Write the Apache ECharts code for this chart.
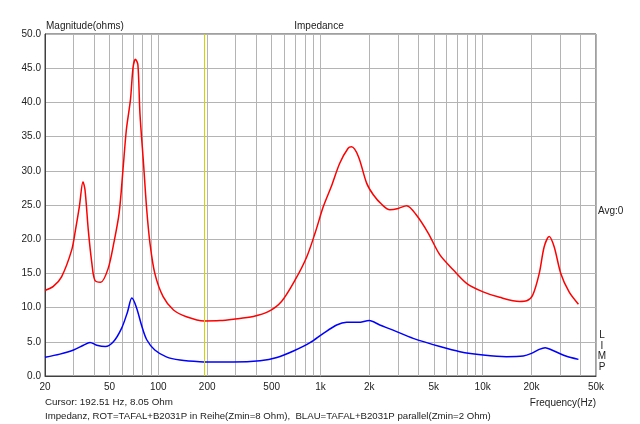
<!DOCTYPE html>
<html>
<head>
<meta charset="utf-8">
<script src="https://cdn.jsdelivr.net/npm/echarts@6/dist/echarts.min.js"></script>
<style>
html, body { margin: 0; padding: 0; background: #fff; }
#chart { width: 640px; height: 424px; }
</style>
</head>
<body>
<div id="chart"></div>
<script>
// impedance curves (Hz, Ohm)
var redFreq = [20, 22.5, 25.3, 29.2, 30.8, 32.6, 34.3, 35.3, 37.0, 38.9, 40.6, 44.1, 49.0, 53.3, 57.3, 60.5, 63.5, 67.3, 69.9, 72.3,
    74.8, 77.0, 81.0, 84.8, 88.8, 95.1, 107, 124, 149, 192, 240, 290, 385, 476, 575, 696, 822, 926, 1042, 1174,
    1314, 1480, 1554, 1712, 1925, 2116, 2382, 2680, 3016, 3396, 3912, 4614, 5450, 6600, 7960, 10060, 12720, 16900, 18700, 20340,
    22340, 23960, 25720, 27600, 30320, 34120, 38960];
var redOhm = [12.5, 13.1, 14.5, 18.4, 21.3, 24.8, 28.4, 27.2, 21.3, 16.5, 14.0, 13.7, 15.7, 19.6, 23.8, 30.1, 36.0, 40.4, 45.2, 46.3,
    45.5, 38.4, 31.1, 24.3, 19.4, 15.0, 11.6, 9.65, 8.67, 8.05, 8.1, 8.3, 8.7, 9.4, 10.9, 14.0, 17.4, 20.9, 24.8, 27.9,
    31.1, 33.3, 33.5, 32.1, 28.2, 26.5, 25.1, 24.3, 24.5, 24.9, 23.5, 20.9, 17.7, 15.5, 13.55, 12.3, 11.5, 10.9, 11.0, 11.8,
    15.0, 18.9, 20.4, 18.9, 15.0, 12.3, 10.5];
var blueFreq = [20, 24.7, 30, 34.5, 37.9, 41.7, 47.1, 52.8, 59.4, 64.6, 68.6, 73.1, 79.3, 84.8, 95.1, 112, 136, 180, 240, 290,
    424, 538, 681, 862, 1042, 1258, 1450, 1712, 1998, 2320, 2804, 3730, 5450, 7240, 10060, 14000, 17770, 20000, 22340, 24300,
    26700, 32560, 38960];
var blueOhm = [2.73, 3.2, 3.8, 4.5, 4.9, 4.5, 4.3, 5.0, 7.0, 9.4, 11.4, 10.1, 7.2, 5.3, 3.8, 2.8, 2.34, 2.1, 2.05, 2.05,
    2.24, 2.7, 3.65, 4.87, 6.24, 7.46, 7.85, 7.85, 8.1, 7.46, 6.7, 5.5, 4.3, 3.55, 3.07, 2.83, 2.92, 3.3, 3.9, 4.14,
    3.8, 2.92, 2.43];

var gridFreqs = [20, 30, 40, 50, 60, 70, 80, 90, 100, 200, 300, 400, 500, 600, 700, 800, 900, 1000,
    2000, 3000, 4000, 5000, 6000, 7000, 8000, 9000, 10000, 20000, 30000, 40000, 50000];
var labelFreqs = [20, 50, 100, 200, 500, 1000, 2000, 5000, 10000, 20000, 50000];
var cursorFreq = 192.51;

var font = '"Liberation Sans", Arial, sans-serif';
var textColor = '#222';

function pairs(xs, ys) {
    return xs.map(function (x, i) { return [x, ys[i]]; });
}

function txt(x, y, s, align, size) {
    return {
        type: 'text', x: x, y: y, silent: true,
        style: { text: s, align: align || 'left', verticalAlign: 'middle', fontSize: size || 10, fontFamily: font, fill: textColor }
    };
}

var chart = echarts.init(document.getElementById('chart'), null, { renderer: 'canvas' });

var option = {
    animation: false,
    backgroundColor: '#fff',
    grid: {
        left: 45, right: 44, top: 34, bottom: 48,
        show: true, borderColor: '#404040', borderWidth: 1
    },
    xAxis: {
        type: 'log', logBase: 10, min: 20, max: 50000,
        axisLine: { show: true, lineStyle: { color: '#404040' } },
        axisTick: { show: false, customValues: gridFreqs },
        splitLine: { show: true, lineStyle: { color: '#b4b4b4', width: 1 } },
        axisLabel: {
            customValues: labelFreqs, margin: 6, fontSize: 10, fontFamily: font, color: textColor,
            formatter: function (v) { return v >= 1000 ? (v / 1000) + 'k' : String(v); }
        }
    },
    yAxis: {
        type: 'value', min: 0, max: 50, interval: 5,
        axisLine: { show: true, lineStyle: { color: '#404040' } },
        axisTick: { show: false },
        splitLine: { show: true, lineStyle: { color: '#b4b4b4', width: 1 } },
        axisLabel: {
            margin: 4, fontSize: 10, fontFamily: font, color: textColor,
            formatter: function (v) { return v.toFixed(1); }
        }
    },
    series: [
        {
            name: 'ROT', type: 'line', data: pairs(redFreq, redOhm),
            smooth: 0.3, showSymbol: false, symbol: 'none',
            lineStyle: { color: '#ff0000', width: 1.5 },
            markLine: {
                silent: true, symbol: 'none', label: { show: false },
                lineStyle: { color: '#d4d400', width: 1, type: 'solid' },
                data: [{ xAxis: cursorFreq }]
            },
            z: 3
        },
        {
            name: 'BLAU', type: 'line', data: pairs(blueFreq, blueOhm),
            smooth: 0.3, showSymbol: false, symbol: 'none',
            lineStyle: { color: '#0000ff', width: 1.5 },
            z: 3
        }
    ],
    graphic: [
        txt(46, 26, 'Magnitude(ohms)'),
        txt(319, 26, 'Impedance', 'center'),
        txt(598, 211, 'Avg:0'),
        txt(602, 335, 'L', 'center'),
        txt(602, 346, 'I', 'center'),
        txt(602, 356.5, 'M', 'center'),
        txt(602, 367, 'P', 'center'),
        txt(45, 402, 'Cursor: 192.51 Hz, 8.05 Ohm', 'left', 9.8),
        txt(596, 403, 'Frequency(Hz)', 'right'),
        txt(45, 416, 'Impedanz, ROT=TAFAL+B2031P in Reihe(Zmin=8 Ohm),  BLAU=TAFAL+B2031P parallel(Zmin=2 Ohm)', 'left', 9.65)
    ]
};

chart.setOption(option);
</script>
</body>
</html>
